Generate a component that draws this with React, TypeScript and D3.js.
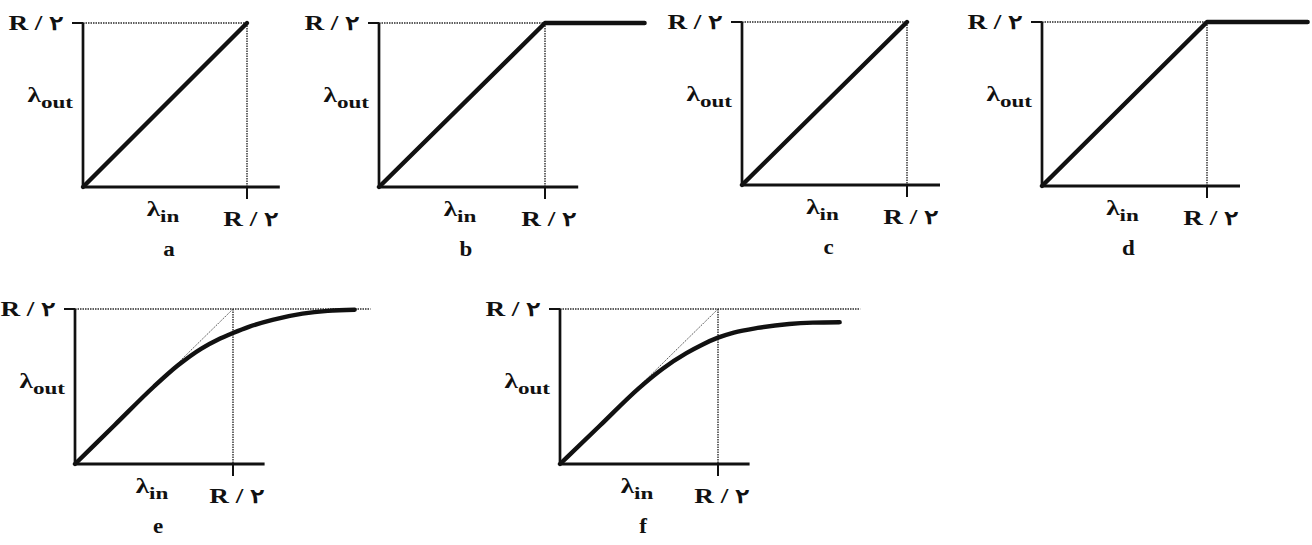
import React from 'react';
import { scaleLinear, line, curveMonotoneX, curveLinear } from 'd3';

// panel letters and the shared labels
const letters = ['a', 'b', 'c', 'd', 'e', 'f'];
const tickLabel = 'R / ۲';
const xLabel = { main: 'λ', sub: 'in' };
const yLabel = { main: 'λ', sub: 'out' };

// throughput curves, x and y in units of R/2
const seriesA = [[0, 0], [1, 1]];
const seriesB = [[0, 0], [1, 1], [1.6, 1]];
const seriesC = [[0, 0], [1, 1]];
const seriesD = [[0, 0], [1, 1], [1.61, 1]];
const seriesE = [
  [0, 0], [0.25, 0.25], [0.5, 0.5], [0.65, 0.635], [0.8, 0.745], [0.9, 0.8],
  [1, 0.845], [1.1, 0.885], [1.25, 0.93], [1.44, 0.97], [1.6, 0.988], [1.77, 0.995]
];
const seriesF = [
  [0, 0], [0.25, 0.245], [0.5, 0.49], [0.65, 0.615], [0.8, 0.715], [0.9, 0.77],
  [1, 0.815], [1.1, 0.848], [1.25, 0.878], [1.45, 0.903], [1.6, 0.912], [1.77, 0.915]
];
const allSeries = [seriesA, seriesB, seriesC, seriesD, seriesE, seriesF];
const smooth = [false, false, false, false, true, true];
const diagonalGuide = [false, false, false, false, true, true];
const guideEnd = [1, 1, 1, 1, 1.87, 1.9];
const axisEnd = 1.2;

// panel placement in the page
const frames = [
  { x0: 83, x1: 247, yT: 23, yB: 187 },
  { x0: 379, x1: 545, yT: 23, yB: 187 },
  { x0: 742, x1: 907, yT: 22, yB: 185 },
  { x0: 1042, x1: 1207, yT: 22, yB: 186 },
  { x0: 75, x1: 233, yT: 309, yB: 464 },
  { x0: 560, x1: 718, yT: 309, yB: 464 }
];

const font = '"Liberation Serif", "Times New Roman", serif';
const ink = '#111';
const dotted = '#2a2a2a';

const Label = ({ x, y, anchor = 'middle', size = 20, sx = 1.36, children }) => (
  <text
    transform={`translate(${x},${y}) scale(${sx},1)`}
    textAnchor={anchor}
    fontFamily={font}
    fontWeight="bold"
    fontSize={size}
    fill={ink}
  >
    {children}
  </text>
);

const Lambda = ({ x, y, anchor, sub }) => (
  <text
    transform={`translate(${x},${y}) scale(1.36,1)`}
    textAnchor={anchor}
    fontFamily={font}
    fontWeight="bold"
    fill={ink}
  >
    <tspan fontSize={20}>λ</tspan>
    <tspan fontSize={17} dy={6}>{sub}</tspan>
  </text>
);

const Panel = ({ i }) => {
  const f = frames[i];
  const xs = scaleLinear().domain([0, 1]).range([f.x0, f.x1]);
  const ys = scaleLinear().domain([0, 1]).range([f.yB, f.yT]);
  const path = line()
    .x((d) => xs(d[0]))
    .y((d) => ys(d[1]))
    .curve(smooth[i] ? curveMonotoneX : curveLinear);
  const mid = (xs(0) + xs(1)) / 2;

  return (
    <g>
      {/* dotted guides */}
      <line
        x1={xs(0)} x2={xs(guideEnd[i])} y1={ys(1)} y2={ys(1)}
        stroke={dotted} strokeWidth={1.4} strokeDasharray="1.5 1"
      />
      <line
        x1={xs(1)} x2={xs(1)} y1={ys(1)} y2={ys(0)}
        stroke={dotted} strokeWidth={1.4} strokeDasharray="1.5 1"
      />
      {diagonalGuide[i] && (
        <path
          d={line().x((d) => xs(d[0])).y((d) => ys(d[1]))([[0, 0], [1, 1]])}
          stroke="#555" strokeWidth={1} strokeDasharray="1.5 1" fill="none"
        />
      )}

      {/* axes and ticks */}
      <line x1={xs(0)} x2={xs(0)} y1={ys(1)} y2={ys(0)} stroke={ink} strokeWidth={2.7} />
      <line x1={xs(0) - 1} x2={xs(axisEnd)} y1={ys(0)} y2={ys(0)} stroke={ink} strokeWidth={3.2} />
      <line x1={xs(0) - 11} x2={xs(0)} y1={ys(1)} y2={ys(1)} stroke={ink} strokeWidth={2} />
      <line x1={xs(1)} x2={xs(1)} y1={ys(0)} y2={ys(0) + 12} stroke={ink} strokeWidth={2} />

      {/* curve */}
      <path
        d={path(allSeries[i])}
        stroke={ink} strokeWidth={4.4} fill="none"
        strokeLinejoin="round" strokeLinecap="round"
      />

      {/* labels */}
      <Label x={xs(0) - 19} y={ys(1) + 7} anchor="end">{tickLabel}</Label>
      <Lambda x={xs(0) - 10} y={f.yT + 79} anchor="end" sub={yLabel.sub} />
      <Lambda x={mid - 2} y={ys(0) + 29} anchor="middle" sub={xLabel.sub} />
      <Label x={xs(1) + 4} y={ys(0) + 39}>{tickLabel}</Label>
      <Label x={mid + 4} y={ys(0) + 69} sx={1.15}>{letters[i]}</Label>
    </g>
  );
};

export default function App() {
  return (
    <svg
      width={1312}
      height={545}
      style={{ position: 'absolute', left: 0, top: 0, background: '#fff' }}
    >
      <rect width={1312} height={545} fill="#fff" />
      {letters.map((l, i) => (
        <Panel key={l} i={i} />
      ))}
    </svg>
  );
}
